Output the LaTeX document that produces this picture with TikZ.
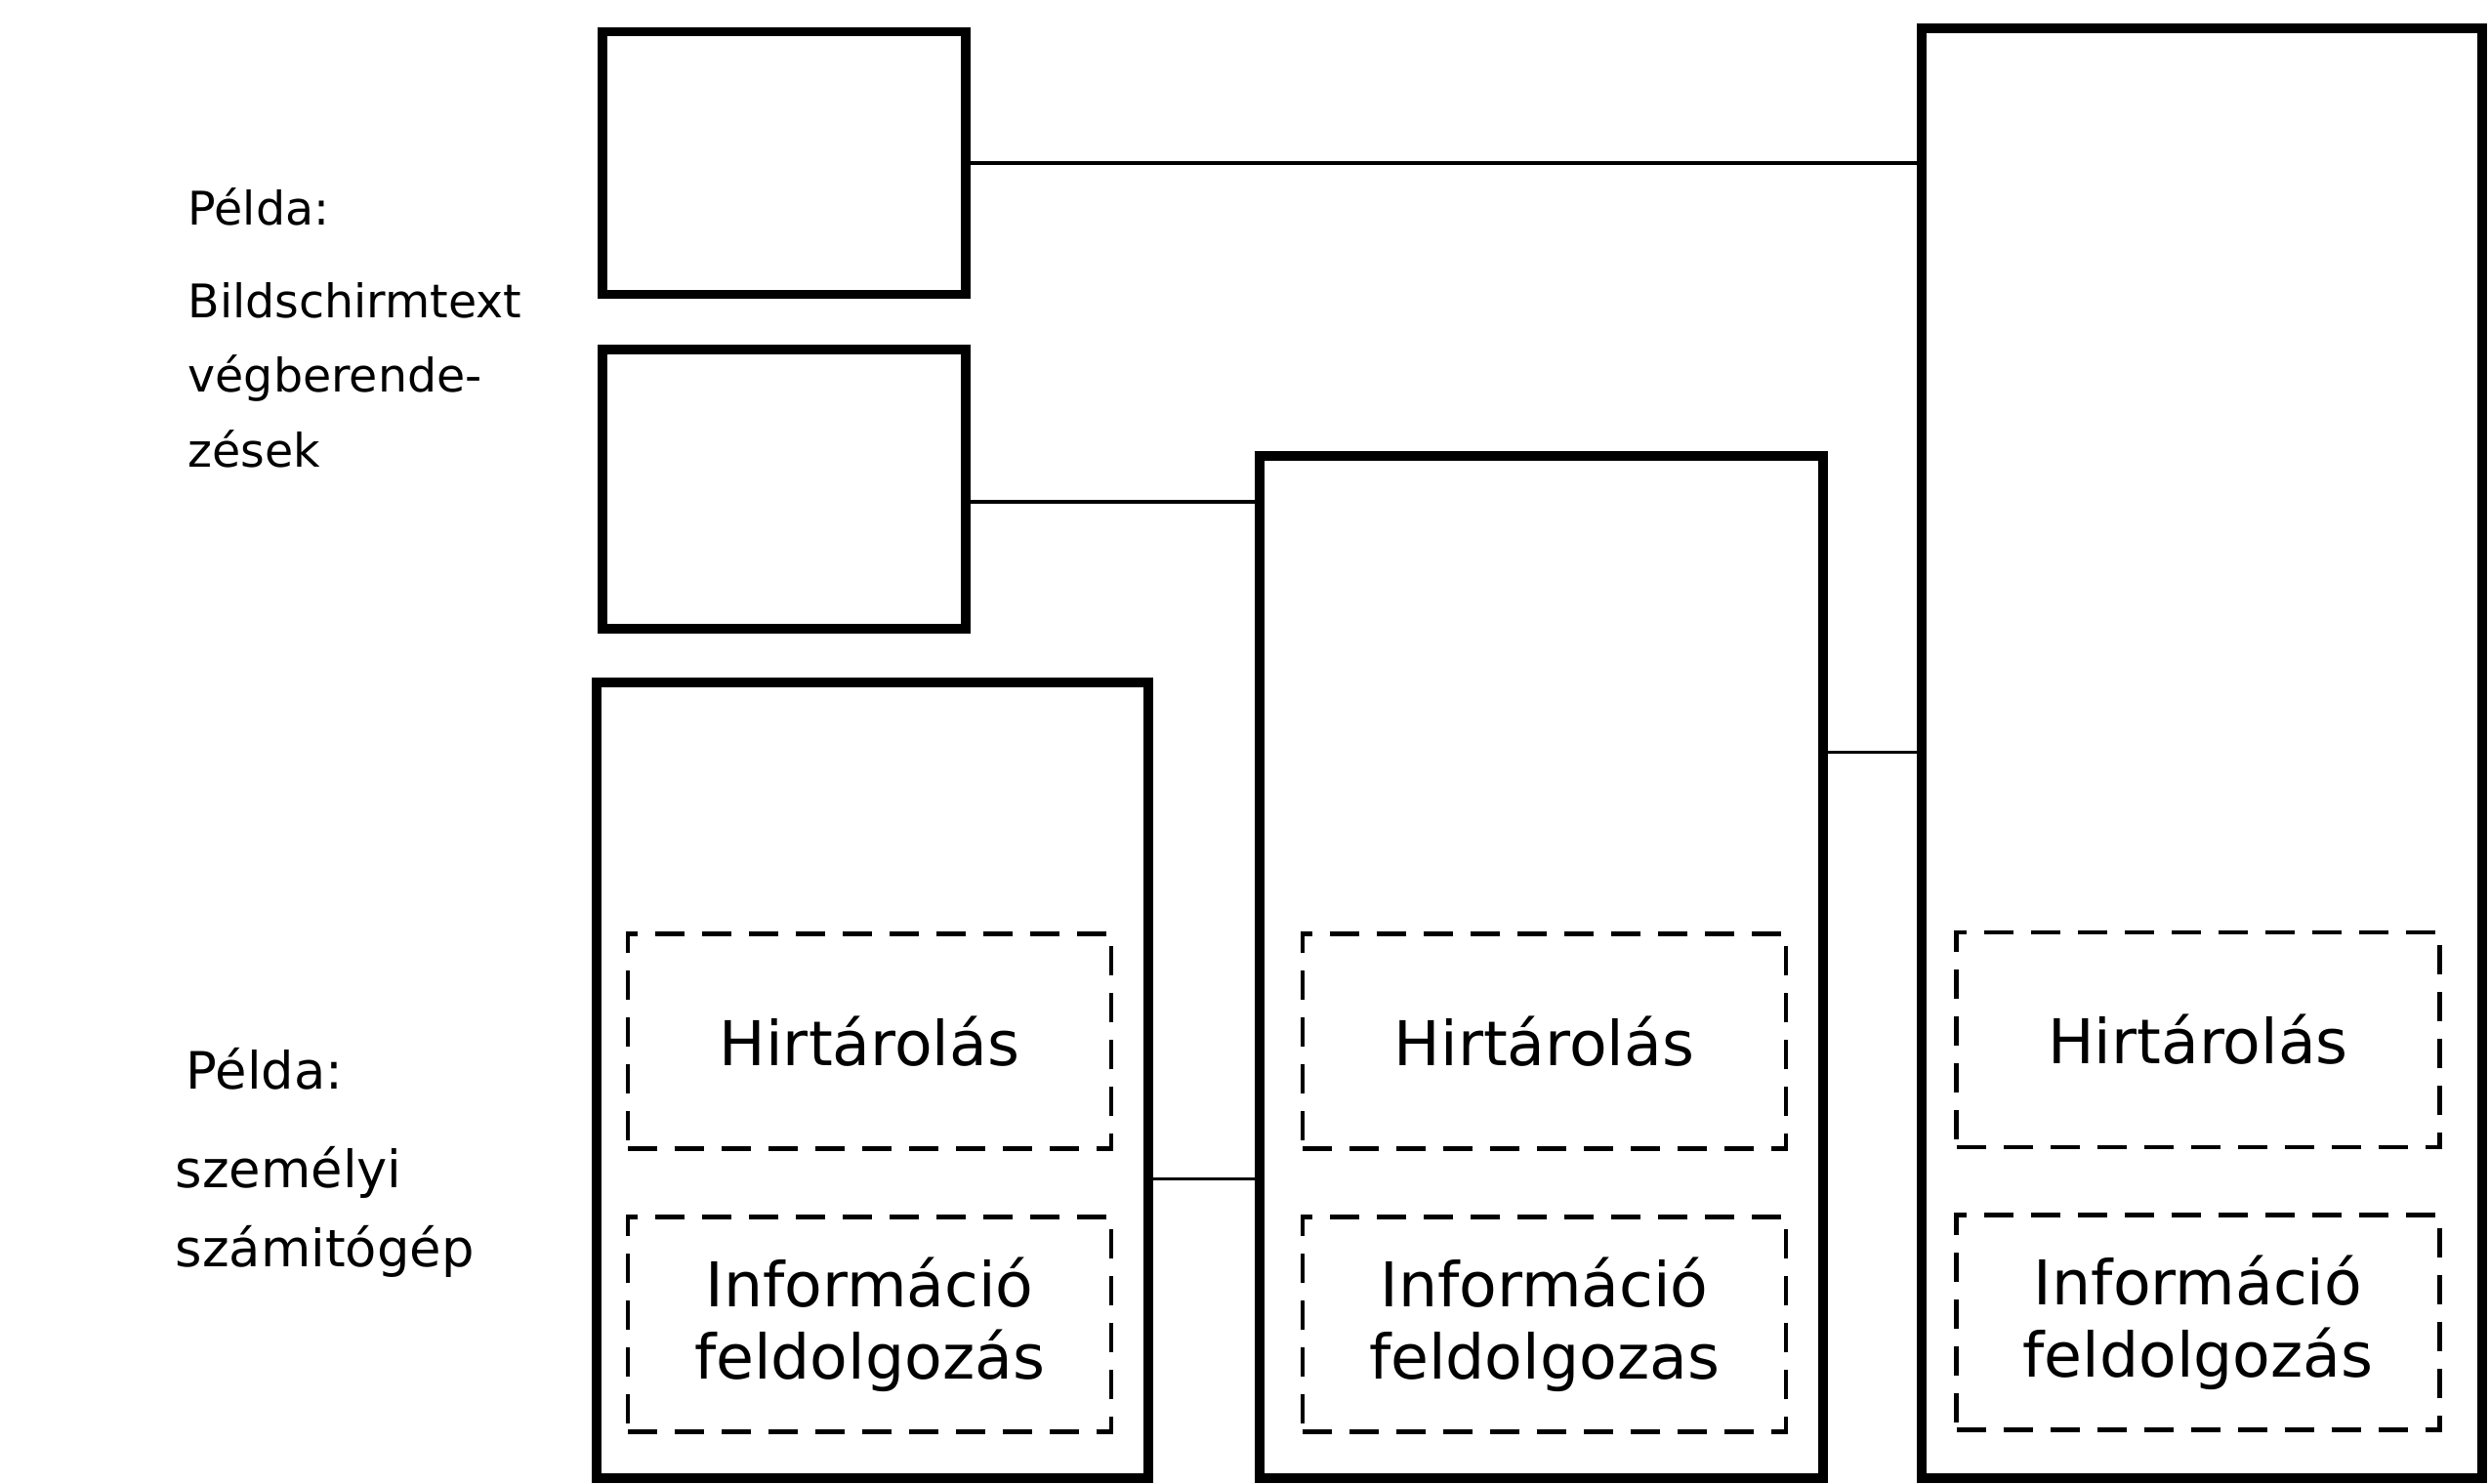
\documentclass[tikz,border=0pt]{standalone}
\usepackage{fontspec}
\setmainfont{DejaVu Sans}
\usetikzlibrary{positioning}

\tikzset{
  device/.style={draw, line width=2.8pt, inner sep=0pt},
  link/.style={draw, line width=1.1pt},
  task/.style={draw, line width=1.4pt, dash pattern=on 0.3cm off 0.18cm,
    minimum width=4.95cm, minimum height=2.2cm, align=center,
    font=\fontsize{18}{21}\selectfont},
  sidetext/.style={anchor=north west, inner sep=0pt, align=left},
}

\begin{document}
\begin{tikzpicture}
          \useasboundingbox (0,0) rectangle (25.5,15.19);
          \node[device, minimum width=3.72cm, minimum height=2.69cm]  (term1) at ( 8.03, 13.52) {};
          \node[device, minimum width=3.72cm, minimum height=2.86cm]  (term2) at ( 8.03, 10.18) {};
          \node[device, minimum width=5.65cm, minimum height=8.15cm]  (pc)    at ( 8.935, 4.125) {};
          \node[device, minimum width=5.77cm, minimum height=10.47cm] (mid)   at (15.785, 5.285) {};
          \node[device, minimum width=5.74cm, minimum height=14.85cm] (host)  at (22.55, 7.475) {};
          %% dashed function blocks
          \node[task] (store1) at ( 8.905, 4.525) {Hirtárolás};
          \node[task] (store2) at (15.815, 4.525) {Hirtárolás};
          \node[task] (store3) at (22.51, 4.54)  {Hirtárolás};
          \node[task, below=0.65cm of store1] (proc1) {Információ\\feldolgozás};
          \node[task, below=0.65cm of store2] (proc2) {Információ\\feldolgozas};
          \node[task, below=0.65cm of store3] (proc3) {Információ\\feldolgozás};
          \node[sidetext, font=\fontsize{13.5}{21.7}\selectfont] (ex1) at (1.92, 13.27) {Példa:};
          \node[sidetext, font=\fontsize{13.5}{21.7}\selectfont] (btx) at (1.92, 12.30) {Bildschirmtext\\végberende-\\zések};
          \node[sidetext, font=\fontsize{15}{23}\selectfont] (ex2) at (1.90, 4.46) {Példa:};
          \node[sidetext, font=\fontsize{15}{23}\selectfont] (pcname) at (1.79, 3.45) {személyi\\számitógép};
          \draw[link] (term1.east) -- (term1.east -| host.west);
          \draw[link] ([yshift=-0.13cm]term2.east) -- ([yshift=-0.13cm]term2.east -| mid.west);
          \draw[link] ([yshift=2.2cm]mid.east) -- ([yshift=2.2cm]mid.east -| host.west);
          \draw[link] ([yshift=-1.01cm]pc.east) -- ([yshift=-1.01cm]pc.east -| mid.west);
        \end{tikzpicture}
\end{document}
